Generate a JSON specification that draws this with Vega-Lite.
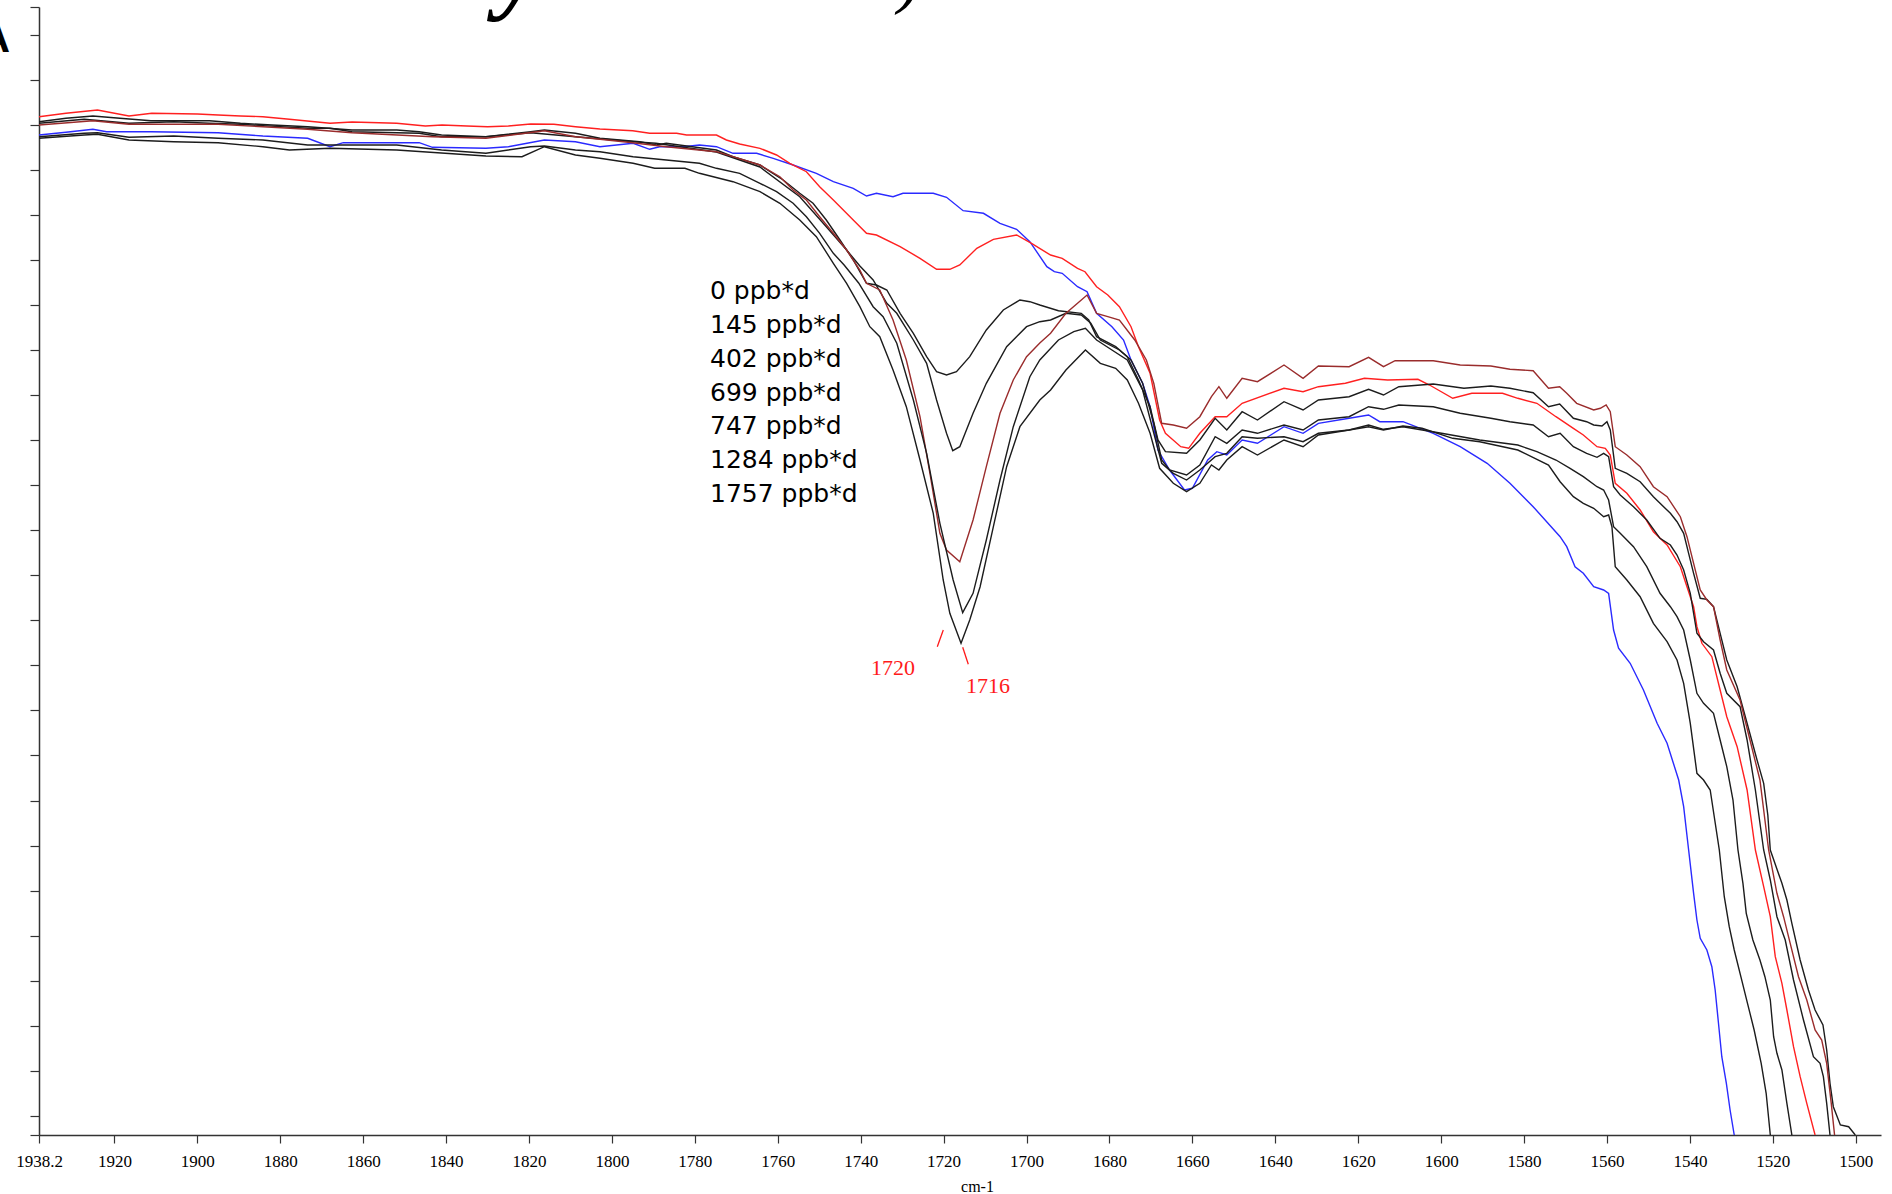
{
  "$schema": "https://vega.github.io/schema/vega-lite/v6.json",
  "width": 1842,
  "height": 1128,
  "autosize": {"type": "none"},
  "padding": {"left": 39, "top": 7, "right": 11, "bottom": 59},
  "background": "white",
  "config": {
    "view": {"stroke": null},
    "axis": {"grid": false, "domainColor": "#333333", "tickColor": "#333333", "domainWidth": 1.5, "tickWidth": 1.2}
  },
  "datasets": {
    "spectra": [
      {"series":"0 ppb*d","wavenumber":1938.2,"absorbance":2.0},{"series":"0 ppb*d","wavenumber":1931.7,"absorbance":2.0054},{"series":"0 ppb*d","wavenumber":1925.2,"absorbance":2.0114},{"series":"0 ppb*d","wavenumber":1921.9,"absorbance":2.0066},{"series":"0 ppb*d","wavenumber":1911.2,"absorbance":2.0066},{"series":"0 ppb*d","wavenumber":1895.0,"absorbance":2.0046},{"series":"0 ppb*d","wavenumber":1884.2,"absorbance":1.998},{"series":"0 ppb*d","wavenumber":1873.4,"absorbance":1.9934},{"series":"0 ppb*d","wavenumber":1868.0,"absorbance":1.9766},{"series":"0 ppb*d","wavenumber":1864.8,"absorbance":1.9846},{"series":"0 ppb*d","wavenumber":1846.5,"absorbance":1.9846},{"series":"0 ppb*d","wavenumber":1843.3,"absorbance":1.9754},{"series":"0 ppb*d","wavenumber":1830.4,"absorbance":1.9734},{"series":"0 ppb*d","wavenumber":1825.0,"absorbance":1.9766},{"series":"0 ppb*d","wavenumber":1816.3,"absorbance":1.99},{"series":"0 ppb*d","wavenumber":1808.8,"absorbance":1.9866},{"series":"0 ppb*d","wavenumber":1802.9,"absorbance":1.9766},{"series":"0 ppb*d","wavenumber":1794.9,"absorbance":1.9834},{"series":"0 ppb*d","wavenumber":1790.9,"absorbance":1.9714},{"series":"0 ppb*d","wavenumber":1788.5,"absorbance":1.9766},{"series":"0 ppb*d","wavenumber":1782.8,"absorbance":1.9766},{"series":"0 ppb*d","wavenumber":1778.9,"absorbance":1.98},{"series":"0 ppb*d","wavenumber":1774.8,"absorbance":1.9766},{"series":"0 ppb*d","wavenumber":1770.8,"absorbance":1.9634},{"series":"0 ppb*d","wavenumber":1765.1,"absorbance":1.9634},{"series":"0 ppb*d","wavenumber":1761.1,"absorbance":1.9534},{"series":"0 ppb*d","wavenumber":1756.3,"absorbance":1.94},{"series":"0 ppb*d","wavenumber":1750.7,"absorbance":1.9234},{"series":"0 ppb*d","wavenumber":1746.6,"absorbance":1.9066},{"series":"0 ppb*d","wavenumber":1741.8,"absorbance":1.8934},{"series":"0 ppb*d","wavenumber":1738.6,"absorbance":1.878},{"series":"0 ppb*d","wavenumber":1736.2,"absorbance":1.8834},{"series":"0 ppb*d","wavenumber":1732.2,"absorbance":1.8766},{"series":"0 ppb*d","wavenumber":1729.8,"absorbance":1.8834},{"series":"0 ppb*d","wavenumber":1722.5,"absorbance":1.8834},{"series":"0 ppb*d","wavenumber":1719.3,"absorbance":1.8754},{"series":"0 ppb*d","wavenumber":1715.3,"absorbance":1.8486},{"series":"0 ppb*d","wavenumber":1710.4,"absorbance":1.8434},{"series":"0 ppb*d","wavenumber":1706.4,"absorbance":1.8234},{"series":"0 ppb*d","wavenumber":1702.4,"absorbance":1.8114},{"series":"0 ppb*d","wavenumber":1699.2,"absorbance":1.7866},{"series":"0 ppb*d","wavenumber":1695.1,"absorbance":1.7366},{"series":"0 ppb*d","wavenumber":1693.3,"absorbance":1.7266},{"series":"0 ppb*d","wavenumber":1691.4,"absorbance":1.7234},{"series":"0 ppb*d","wavenumber":1687.7,"absorbance":1.6966},{"series":"0 ppb*d","wavenumber":1685.4,"absorbance":1.6866},{"series":"0 ppb*d","wavenumber":1683.1,"absorbance":1.6434},{"series":"0 ppb*d","wavenumber":1679.4,"absorbance":1.6166},{"series":"0 ppb*d","wavenumber":1676.6,"absorbance":1.59},{"series":"0 ppb*d","wavenumber":1674.8,"absorbance":1.55},{"series":"0 ppb*d","wavenumber":1672.0,"absorbance":1.5034},{"series":"0 ppb*d","wavenumber":1670.2,"absorbance":1.4566},{"series":"0 ppb*d","wavenumber":1668.3,"absorbance":1.37},{"series":"0 ppb*d","wavenumber":1665.5,"absorbance":1.33},{"series":"0 ppb*d","wavenumber":1661.9,"absorbance":1.29},{"series":"0 ppb*d","wavenumber":1660.0,"absorbance":1.2934},{"series":"0 ppb*d","wavenumber":1656.3,"absorbance":1.35},{"series":"0 ppb*d","wavenumber":1654.1,"absorbance":1.3666},{"series":"0 ppb*d","wavenumber":1651.7,"absorbance":1.36},{"series":"0 ppb*d","wavenumber":1648.0,"absorbance":1.39},{"series":"0 ppb*d","wavenumber":1644.3,"absorbance":1.3834},{"series":"0 ppb*d","wavenumber":1637.9,"absorbance":1.4166},{"series":"0 ppb*d","wavenumber":1633.3,"absorbance":1.4034},{"series":"0 ppb*d","wavenumber":1629.6,"absorbance":1.4234},{"series":"0 ppb*d","wavenumber":1622.2,"absorbance":1.4334},{"series":"0 ppb*d","wavenumber":1617.5,"absorbance":1.44},{"series":"0 ppb*d","wavenumber":1614.8,"absorbance":1.4266},{"series":"0 ppb*d","wavenumber":1609.2,"absorbance":1.4266},{"series":"0 ppb*d","wavenumber":1601.9,"absorbance":1.4034},{"series":"0 ppb*d","wavenumber":1595.4,"absorbance":1.3766},{"series":"0 ppb*d","wavenumber":1588.9,"absorbance":1.3434},{"series":"0 ppb*d","wavenumber":1583.4,"absorbance":1.3034},{"series":"0 ppb*d","wavenumber":1577.8,"absorbance":1.2566},{"series":"0 ppb*d","wavenumber":1571.3,"absorbance":1.1966},{"series":"0 ppb*d","wavenumber":1569.7,"absorbance":1.1766},{"series":"0 ppb*d","wavenumber":1567.7,"absorbance":1.1366},{"series":"0 ppb*d","wavenumber":1565.7,"absorbance":1.1234},{"series":"0 ppb*d","wavenumber":1563.2,"absorbance":1.0966},{"series":"0 ppb*d","wavenumber":1560.8,"absorbance":1.09},{"series":"0 ppb*d","wavenumber":1559.6,"absorbance":1.0834},{"series":"0 ppb*d","wavenumber":1558.4,"absorbance":1.01},{"series":"0 ppb*d","wavenumber":1557.2,"absorbance":0.9734},{"series":"0 ppb*d","wavenumber":1554.4,"absorbance":0.9434},{"series":"0 ppb*d","wavenumber":1551.2,"absorbance":0.89},{"series":"0 ppb*d","wavenumber":1547.9,"absorbance":0.8234},{"series":"0 ppb*d","wavenumber":1545.5,"absorbance":0.7834},{"series":"0 ppb*d","wavenumber":1542.7,"absorbance":0.71},{"series":"0 ppb*d","wavenumber":1541.5,"absorbance":0.6566},{"series":"0 ppb*d","wavenumber":1540.3,"absorbance":0.57},{"series":"0 ppb*d","wavenumber":1539.1,"absorbance":0.4834},{"series":"0 ppb*d","wavenumber":1538.3,"absorbance":0.43},{"series":"0 ppb*d","wavenumber":1537.5,"absorbance":0.3934},{"series":"0 ppb*d","wavenumber":1535.9,"absorbance":0.37},{"series":"0 ppb*d","wavenumber":1534.7,"absorbance":0.3366},{"series":"0 ppb*d","wavenumber":1533.9,"absorbance":0.29},{"series":"0 ppb*d","wavenumber":1533.1,"absorbance":0.2234},{"series":"0 ppb*d","wavenumber":1532.3,"absorbance":0.1566},{"series":"0 ppb*d","wavenumber":1531.2,"absorbance":0.1034},{"series":"0 ppb*d","wavenumber":1530.3,"absorbance":0.05},{"series":"0 ppb*d","wavenumber":1529.3,"absorbance":0.0},

      {"series":"145 ppb*d","wavenumber":1938.2,"absorbance":2.0366},{"series":"145 ppb*d","wavenumber":1931.7,"absorbance":2.0434},{"series":"145 ppb*d","wavenumber":1924.1,"absorbance":2.05},{"series":"145 ppb*d","wavenumber":1916.5,"absorbance":2.038},{"series":"145 ppb*d","wavenumber":1911.0,"absorbance":2.0434},{"series":"145 ppb*d","wavenumber":1900.0,"absorbance":2.042},{"series":"145 ppb*d","wavenumber":1895.0,"absorbance":2.04},{"series":"145 ppb*d","wavenumber":1889.6,"absorbance":2.038},{"series":"145 ppb*d","wavenumber":1884.2,"absorbance":2.0366},{"series":"145 ppb*d","wavenumber":1877.8,"absorbance":2.0314},{"series":"145 ppb*d","wavenumber":1868.0,"absorbance":2.0234},{"series":"145 ppb*d","wavenumber":1862.7,"absorbance":2.026},{"series":"145 ppb*d","wavenumber":1851.9,"absorbance":2.0234},{"series":"145 ppb*d","wavenumber":1845.0,"absorbance":2.018},{"series":"145 ppb*d","wavenumber":1841.0,"absorbance":2.02},{"series":"145 ppb*d","wavenumber":1835.0,"absorbance":2.018},{"series":"145 ppb*d","wavenumber":1830.0,"absorbance":2.0166},{"series":"145 ppb*d","wavenumber":1825.0,"absorbance":2.018},{"series":"145 ppb*d","wavenumber":1819.6,"absorbance":2.022},{"series":"145 ppb*d","wavenumber":1814.0,"absorbance":2.0214},{"series":"145 ppb*d","wavenumber":1808.8,"absorbance":2.0166},{"series":"145 ppb*d","wavenumber":1802.9,"absorbance":2.012},{"series":"145 ppb*d","wavenumber":1795.0,"absorbance":2.0086},{"series":"145 ppb*d","wavenumber":1790.9,"absorbance":2.0034},{"series":"145 ppb*d","wavenumber":1784.4,"absorbance":2.0034},{"series":"145 ppb*d","wavenumber":1782.0,"absorbance":2.0},{"series":"145 ppb*d","wavenumber":1774.8,"absorbance":2.0},{"series":"145 ppb*d","wavenumber":1772.4,"absorbance":1.99},{"series":"145 ppb*d","wavenumber":1769.2,"absorbance":1.982},{"series":"145 ppb*d","wavenumber":1764.3,"absorbance":1.9734},{"series":"145 ppb*d","wavenumber":1760.3,"absorbance":1.96},{"series":"145 ppb*d","wavenumber":1757.1,"absorbance":1.9434},{"series":"145 ppb*d","wavenumber":1753.1,"absorbance":1.9266},{"series":"145 ppb*d","wavenumber":1749.9,"absorbance":1.8966},{"series":"145 ppb*d","wavenumber":1746.6,"absorbance":1.87},{"series":"145 ppb*d","wavenumber":1741.8,"absorbance":1.83},{"series":"145 ppb*d","wavenumber":1738.6,"absorbance":1.8034},{"series":"145 ppb*d","wavenumber":1736.2,"absorbance":1.8},{"series":"145 ppb*d","wavenumber":1730.5,"absorbance":1.7766},{"series":"145 ppb*d","wavenumber":1725.7,"absorbance":1.7534},{"series":"145 ppb*d","wavenumber":1721.7,"absorbance":1.7314},{"series":"145 ppb*d","wavenumber":1718.5,"absorbance":1.7314},{"series":"145 ppb*d","wavenumber":1716.1,"absorbance":1.74},{"series":"145 ppb*d","wavenumber":1712.0,"absorbance":1.7734},{"series":"145 ppb*d","wavenumber":1708.0,"absorbance":1.7914},{"series":"145 ppb*d","wavenumber":1702.4,"absorbance":1.8},{"series":"145 ppb*d","wavenumber":1698.8,"absorbance":1.7834},{"series":"145 ppb*d","wavenumber":1694.2,"absorbance":1.76},{"series":"145 ppb*d","wavenumber":1691.4,"absorbance":1.7534},{"series":"145 ppb*d","wavenumber":1687.7,"absorbance":1.7334},{"series":"145 ppb*d","wavenumber":1685.9,"absorbance":1.7266},{"series":"145 ppb*d","wavenumber":1683.1,"absorbance":1.6966},{"series":"145 ppb*d","wavenumber":1680.4,"absorbance":1.68},{"series":"145 ppb*d","wavenumber":1677.6,"absorbance":1.6566},{"series":"145 ppb*d","wavenumber":1674.8,"absorbance":1.6166},{"series":"145 ppb*d","wavenumber":1673.0,"absorbance":1.5766},{"series":"145 ppb*d","wavenumber":1670.2,"absorbance":1.5234},{"series":"145 ppb*d","wavenumber":1667.9,"absorbance":1.43},{"series":"145 ppb*d","wavenumber":1666.5,"absorbance":1.4034},{"series":"145 ppb*d","wavenumber":1662.8,"absorbance":1.3766},{"series":"145 ppb*d","wavenumber":1660.9,"absorbance":1.3734},{"series":"145 ppb*d","wavenumber":1658.2,"absorbance":1.4034},{"series":"145 ppb*d","wavenumber":1654.5,"absorbance":1.4366},{"series":"145 ppb*d","wavenumber":1651.7,"absorbance":1.4366},{"series":"145 ppb*d","wavenumber":1648.0,"absorbance":1.4634},{"series":"145 ppb*d","wavenumber":1637.9,"absorbance":1.4934},{"series":"145 ppb*d","wavenumber":1633.3,"absorbance":1.4866},{"series":"145 ppb*d","wavenumber":1629.6,"absorbance":1.4966},{"series":"145 ppb*d","wavenumber":1623.1,"absorbance":1.5034},{"series":"145 ppb*d","wavenumber":1618.5,"absorbance":1.5134},{"series":"145 ppb*d","wavenumber":1612.9,"absorbance":1.51},{"series":"145 ppb*d","wavenumber":1605.6,"absorbance":1.5114},{"series":"145 ppb*d","wavenumber":1602.8,"absorbance":1.5},{"series":"145 ppb*d","wavenumber":1597.2,"absorbance":1.4734},{"series":"145 ppb*d","wavenumber":1592.6,"absorbance":1.4834},{"series":"145 ppb*d","wavenumber":1585.2,"absorbance":1.4834},{"series":"145 ppb*d","wavenumber":1581.5,"absorbance":1.4734},{"series":"145 ppb*d","wavenumber":1576.9,"absorbance":1.4634},{"series":"145 ppb*d","wavenumber":1572.3,"absorbance":1.4366},{"series":"145 ppb*d","wavenumber":1568.1,"absorbance":1.4134},{"series":"145 ppb*d","wavenumber":1565.7,"absorbance":1.4},{"series":"145 ppb*d","wavenumber":1562.4,"absorbance":1.3766},{"series":"145 ppb*d","wavenumber":1560.4,"absorbance":1.3734},{"series":"145 ppb*d","wavenumber":1559.2,"absorbance":1.36},{"series":"145 ppb*d","wavenumber":1558.0,"absorbance":1.3034},{"series":"145 ppb*d","wavenumber":1555.2,"absorbance":1.2834},{"series":"145 ppb*d","wavenumber":1552.0,"absorbance":1.25},{"series":"145 ppb*d","wavenumber":1548.8,"absorbance":1.2066},{"series":"145 ppb*d","wavenumber":1545.5,"absorbance":1.18},{"series":"145 ppb*d","wavenumber":1542.3,"absorbance":1.1366},{"series":"145 ppb*d","wavenumber":1540.7,"absorbance":1.0966},{"series":"145 ppb*d","wavenumber":1539.1,"absorbance":1.0566},{"series":"145 ppb*d","wavenumber":1538.3,"absorbance":1.0166},{"series":"145 ppb*d","wavenumber":1537.1,"absorbance":0.9834},{"series":"145 ppb*d","wavenumber":1534.7,"absorbance":0.9566},{"series":"145 ppb*d","wavenumber":1532.7,"absorbance":0.89},{"series":"145 ppb*d","wavenumber":1531.1,"absorbance":0.8366},{"series":"145 ppb*d","wavenumber":1528.6,"absorbance":0.7766},{"series":"145 ppb*d","wavenumber":1526.2,"absorbance":0.69},{"series":"145 ppb*d","wavenumber":1524.2,"absorbance":0.57},{"series":"145 ppb*d","wavenumber":1522.2,"absorbance":0.4966},{"series":"145 ppb*d","wavenumber":1520.6,"absorbance":0.4366},{"series":"145 ppb*d","wavenumber":1519.4,"absorbance":0.3566},{"series":"145 ppb*d","wavenumber":1517.8,"absorbance":0.3034},{"series":"145 ppb*d","wavenumber":1516.6,"absorbance":0.25},{"series":"145 ppb*d","wavenumber":1515.0,"absorbance":0.1766},{"series":"145 ppb*d","wavenumber":1513.4,"absorbance":0.1166},{"series":"145 ppb*d","wavenumber":1511.8,"absorbance":0.0634},{"series":"145 ppb*d","wavenumber":1509.8,"absorbance":0.0},

      {"series":"402 ppb*d","wavenumber":1938.2,"absorbance":2.0266},{"series":"402 ppb*d","wavenumber":1931.7,"absorbance":2.0334},{"series":"402 ppb*d","wavenumber":1925.2,"absorbance":2.038},{"series":"402 ppb*d","wavenumber":1918.7,"absorbance":2.0334},{"series":"402 ppb*d","wavenumber":1911.2,"absorbance":2.0286},{"series":"402 ppb*d","wavenumber":1897.1,"absorbance":2.0286},{"series":"402 ppb*d","wavenumber":1889.6,"absorbance":2.0234},{"series":"402 ppb*d","wavenumber":1882.0,"absorbance":2.02},{"series":"402 ppb*d","wavenumber":1873.4,"absorbance":2.0166},{"series":"402 ppb*d","wavenumber":1862.7,"absorbance":2.01},{"series":"402 ppb*d","wavenumber":1851.9,"absorbance":2.01},{"series":"402 ppb*d","wavenumber":1846.5,"absorbance":2.0066},{"series":"402 ppb*d","wavenumber":1841.1,"absorbance":2.0},{"series":"402 ppb*d","wavenumber":1830.4,"absorbance":1.9966},{"series":"402 ppb*d","wavenumber":1819.6,"absorbance":2.0066},{"series":"402 ppb*d","wavenumber":1816.3,"absorbance":2.01},{"series":"402 ppb*d","wavenumber":1808.8,"absorbance":2.0034},{"series":"402 ppb*d","wavenumber":1802.9,"absorbance":1.9934},{"series":"402 ppb*d","wavenumber":1793.3,"absorbance":1.9866},{"series":"402 ppb*d","wavenumber":1789.3,"absorbance":1.98},{"series":"402 ppb*d","wavenumber":1786.9,"absorbance":1.9834},{"series":"402 ppb*d","wavenumber":1774.8,"absorbance":1.97},{"series":"402 ppb*d","wavenumber":1770.8,"absorbance":1.9566},{"series":"402 ppb*d","wavenumber":1764.3,"absorbance":1.94},{"series":"402 ppb*d","wavenumber":1758.7,"absorbance":1.91},{"series":"402 ppb*d","wavenumber":1754.7,"absorbance":1.8834},{"series":"402 ppb*d","wavenumber":1751.5,"absorbance":1.8634},{"series":"402 ppb*d","wavenumber":1748.3,"absorbance":1.83},{"series":"402 ppb*d","wavenumber":1745.0,"absorbance":1.79},{"series":"402 ppb*d","wavenumber":1741.8,"absorbance":1.75},{"series":"402 ppb*d","wavenumber":1738.6,"absorbance":1.7034},{"series":"402 ppb*d","wavenumber":1736.2,"absorbance":1.70},{"series":"402 ppb*d","wavenumber":1733.7,"absorbance":1.69},{"series":"402 ppb*d","wavenumber":1730.5,"absorbance":1.6434},{"series":"402 ppb*d","wavenumber":1727.3,"absorbance":1.6034},{"series":"402 ppb*d","wavenumber":1724.1,"absorbance":1.5566},{"series":"402 ppb*d","wavenumber":1721.7,"absorbance":1.5266},{"series":"402 ppb*d","wavenumber":1719.3,"absorbance":1.52},{"series":"402 ppb*d","wavenumber":1716.9,"absorbance":1.5266},{"series":"402 ppb*d","wavenumber":1713.7,"absorbance":1.5566},{"series":"402 ppb*d","wavenumber":1709.7,"absorbance":1.61},{"series":"402 ppb*d","wavenumber":1705.6,"absorbance":1.65},{"series":"402 ppb*d","wavenumber":1701.6,"absorbance":1.67},{"series":"402 ppb*d","wavenumber":1699.2,"absorbance":1.6666},{"series":"402 ppb*d","wavenumber":1696.8,"absorbance":1.66},{"series":"402 ppb*d","wavenumber":1692.3,"absorbance":1.6486},{"series":"402 ppb*d","wavenumber":1686.8,"absorbance":1.6434},{"series":"402 ppb*d","wavenumber":1685.0,"absorbance":1.63},{"series":"402 ppb*d","wavenumber":1683.1,"absorbance":1.5966},{"series":"402 ppb*d","wavenumber":1678.5,"absorbance":1.5766},{"series":"402 ppb*d","wavenumber":1675.7,"absorbance":1.5566},{"series":"402 ppb*d","wavenumber":1673.0,"absorbance":1.51},{"series":"402 ppb*d","wavenumber":1670.2,"absorbance":1.4566},{"series":"402 ppb*d","wavenumber":1668.3,"absorbance":1.39},{"series":"402 ppb*d","wavenumber":1666.5,"absorbance":1.3666},{"series":"402 ppb*d","wavenumber":1661.4,"absorbance":1.3634},{"series":"402 ppb*d","wavenumber":1658.2,"absorbance":1.39},{"series":"402 ppb*d","wavenumber":1654.5,"absorbance":1.4334},{"series":"402 ppb*d","wavenumber":1651.7,"absorbance":1.41},{"series":"402 ppb*d","wavenumber":1648.0,"absorbance":1.4466},{"series":"402 ppb*d","wavenumber":1644.3,"absorbance":1.43},{"series":"402 ppb*d","wavenumber":1637.9,"absorbance":1.4666},{"series":"402 ppb*d","wavenumber":1633.3,"absorbance":1.45},{"series":"402 ppb*d","wavenumber":1629.6,"absorbance":1.47},{"series":"402 ppb*d","wavenumber":1622.2,"absorbance":1.4766},{"series":"402 ppb*d","wavenumber":1617.5,"absorbance":1.4914},{"series":"402 ppb*d","wavenumber":1613.9,"absorbance":1.48},{"series":"402 ppb*d","wavenumber":1610.2,"absorbance":1.4966},{"series":"402 ppb*d","wavenumber":1601.9,"absorbance":1.502},{"series":"402 ppb*d","wavenumber":1594.5,"absorbance":1.4934},{"series":"402 ppb*d","wavenumber":1588.0,"absorbance":1.498},{"series":"402 ppb*d","wavenumber":1583.4,"absorbance":1.4934},{"series":"402 ppb*d","wavenumber":1577.8,"absorbance":1.4846},{"series":"402 ppb*d","wavenumber":1574.1,"absorbance":1.4566},{"series":"402 ppb*d","wavenumber":1571.4,"absorbance":1.462},{"series":"402 ppb*d","wavenumber":1568.1,"absorbance":1.4334},{"series":"402 ppb*d","wavenumber":1564.9,"absorbance":1.4266},{"series":"402 ppb*d","wavenumber":1563.2,"absorbance":1.42},{"series":"402 ppb*d","wavenumber":1561.2,"absorbance":1.418},{"series":"402 ppb*d","wavenumber":1560.0,"absorbance":1.4266},{"series":"402 ppb*d","wavenumber":1559.2,"absorbance":1.41},{"series":"402 ppb*d","wavenumber":1558.0,"absorbance":1.3334},{"series":"402 ppb*d","wavenumber":1555.2,"absorbance":1.3234},{"series":"402 ppb*d","wavenumber":1552.0,"absorbance":1.3066},{"series":"402 ppb*d","wavenumber":1548.8,"absorbance":1.2766},{"series":"402 ppb*d","wavenumber":1547.2,"absorbance":1.2634},{"series":"402 ppb*d","wavenumber":1544.7,"absorbance":1.2434},{"series":"402 ppb*d","wavenumber":1543.1,"absorbance":1.2266},{"series":"402 ppb*d","wavenumber":1541.5,"absorbance":1.2034},{"series":"402 ppb*d","wavenumber":1540.3,"absorbance":1.1634},{"series":"402 ppb*d","wavenumber":1539.1,"absorbance":1.1234},{"series":"402 ppb*d","wavenumber":1537.5,"absorbance":1.0734},{"series":"402 ppb*d","wavenumber":1535.9,"absorbance":1.0714},{"series":"402 ppb*d","wavenumber":1534.3,"absorbance":1.0566},{"series":"402 ppb*d","wavenumber":1532.7,"absorbance":1.0034},{"series":"402 ppb*d","wavenumber":1531.1,"absorbance":0.95},{"series":"402 ppb*d","wavenumber":1528.6,"absorbance":0.8966},{"series":"402 ppb*d","wavenumber":1526.2,"absorbance":0.8234},{"series":"402 ppb*d","wavenumber":1523.8,"absorbance":0.75},{"series":"402 ppb*d","wavenumber":1522.2,"absorbance":0.7034},{"series":"402 ppb*d","wavenumber":1521.2,"absorbance":0.64},{"series":"402 ppb*d","wavenumber":1520.6,"absorbance":0.57},{"series":"402 ppb*d","wavenumber":1517.8,"absorbance":0.5034},{"series":"402 ppb*d","wavenumber":1516.6,"absorbance":0.47},{"series":"402 ppb*d","wavenumber":1515.4,"absorbance":0.4234},{"series":"402 ppb*d","wavenumber":1513.4,"absorbance":0.35},{"series":"402 ppb*d","wavenumber":1511.4,"absorbance":0.29},{"series":"402 ppb*d","wavenumber":1509.8,"absorbance":0.25},{"series":"402 ppb*d","wavenumber":1507.9,"absorbance":0.22},{"series":"402 ppb*d","wavenumber":1507.0,"absorbance":0.17},{"series":"402 ppb*d","wavenumber":1506.2,"absorbance":0.1034},{"series":"402 ppb*d","wavenumber":1505.4,"absorbance":0.0566},{"series":"402 ppb*d","wavenumber":1503.7,"absorbance":0.02},{"series":"402 ppb*d","wavenumber":1501.7,"absorbance":0.0166},{"series":"402 ppb*d","wavenumber":1500.1,"absorbance":0.0},

      {"series":"699 ppb*d","wavenumber":1938.2,"absorbance":2.0234},{"series":"699 ppb*d","wavenumber":1927.3,"absorbance":2.0314},{"series":"699 ppb*d","wavenumber":1916.5,"absorbance":2.0234},{"series":"699 ppb*d","wavenumber":1905.7,"absorbance":2.0266},{"series":"699 ppb*d","wavenumber":1897.1,"absorbance":2.0234},{"series":"699 ppb*d","wavenumber":1889.6,"absorbance":2.0214},{"series":"699 ppb*d","wavenumber":1873.4,"absorbance":2.0134},{"series":"699 ppb*d","wavenumber":1868.0,"absorbance":2.0134},{"series":"699 ppb*d","wavenumber":1862.7,"absorbance":2.0066},{"series":"699 ppb*d","wavenumber":1846.5,"absorbance":2.0034},{"series":"699 ppb*d","wavenumber":1841.1,"absorbance":1.9966},{"series":"699 ppb*d","wavenumber":1830.4,"absorbance":1.9966},{"series":"699 ppb*d","wavenumber":1819.6,"absorbance":2.0046},{"series":"699 ppb*d","wavenumber":1808.8,"absorbance":1.9966},{"series":"699 ppb*d","wavenumber":1794.8,"absorbance":1.9866},{"series":"699 ppb*d","wavenumber":1789.4,"absorbance":1.9834},{"series":"699 ppb*d","wavenumber":1774.8,"absorbance":1.966},{"series":"699 ppb*d","wavenumber":1764.3,"absorbance":1.936},{"series":"699 ppb*d","wavenumber":1754.7,"absorbance":1.8766},{"series":"699 ppb*d","wavenumber":1748.3,"absorbance":1.8166},{"series":"699 ppb*d","wavenumber":1743.4,"absorbance":1.77},{"series":"699 ppb*d","wavenumber":1740.2,"absorbance":1.738},{"series":"699 ppb*d","wavenumber":1737.0,"absorbance":1.71},{"series":"699 ppb*d","wavenumber":1733.7,"absorbance":1.6634},{"series":"699 ppb*d","wavenumber":1731.3,"absorbance":1.6434},{"series":"699 ppb*d","wavenumber":1727.3,"absorbance":1.59},{"series":"699 ppb*d","wavenumber":1724.1,"absorbance":1.5434},{"series":"699 ppb*d","wavenumber":1721.7,"absorbance":1.47},{"series":"699 ppb*d","wavenumber":1719.3,"absorbance":1.4034},{"series":"699 ppb*d","wavenumber":1717.8,"absorbance":1.3686},{"series":"699 ppb*d","wavenumber":1716.1,"absorbance":1.3766},{"series":"699 ppb*d","wavenumber":1712.9,"absorbance":1.4434},{"series":"699 ppb*d","wavenumber":1709.7,"absorbance":1.5034},{"series":"699 ppb*d","wavenumber":1704.8,"absorbance":1.5766},{"series":"699 ppb*d","wavenumber":1700.0,"absorbance":1.6166},{"series":"699 ppb*d","wavenumber":1696.8,"absorbance":1.6266},{"series":"699 ppb*d","wavenumber":1694.2,"absorbance":1.63},{"series":"699 ppb*d","wavenumber":1690.5,"absorbance":1.6434},{"series":"699 ppb*d","wavenumber":1686.8,"absorbance":1.64},{"series":"699 ppb*d","wavenumber":1684.5,"absorbance":1.6234},{"series":"699 ppb*d","wavenumber":1682.2,"absorbance":1.59},{"series":"699 ppb*d","wavenumber":1677.6,"absorbance":1.57},{"series":"699 ppb*d","wavenumber":1674.8,"absorbance":1.55},{"series":"699 ppb*d","wavenumber":1672.0,"absorbance":1.5034},{"series":"699 ppb*d","wavenumber":1669.3,"absorbance":1.4234},{"series":"699 ppb*d","wavenumber":1667.4,"absorbance":1.35},{"series":"699 ppb*d","wavenumber":1665.5,"absorbance":1.33},{"series":"699 ppb*d","wavenumber":1661.4,"absorbance":1.32},{"series":"699 ppb*d","wavenumber":1658.2,"absorbance":1.34},{"series":"699 ppb*d","wavenumber":1654.5,"absorbance":1.3966},{"series":"699 ppb*d","wavenumber":1651.7,"absorbance":1.3834},{"series":"699 ppb*d","wavenumber":1648.0,"absorbance":1.41},{"series":"699 ppb*d","wavenumber":1644.3,"absorbance":1.4034},{"series":"699 ppb*d","wavenumber":1637.9,"absorbance":1.42},{"series":"699 ppb*d","wavenumber":1633.3,"absorbance":1.41},{"series":"699 ppb*d","wavenumber":1629.6,"absorbance":1.43},{"series":"699 ppb*d","wavenumber":1622.2,"absorbance":1.4366},{"series":"699 ppb*d","wavenumber":1617.5,"absorbance":1.4566},{"series":"699 ppb*d","wavenumber":1613.9,"absorbance":1.4514},{"series":"699 ppb*d","wavenumber":1610.2,"absorbance":1.46},{"series":"699 ppb*d","wavenumber":1601.9,"absorbance":1.4566},{"series":"699 ppb*d","wavenumber":1595.4,"absorbance":1.4434},{"series":"699 ppb*d","wavenumber":1588.0,"absorbance":1.4334},{"series":"699 ppb*d","wavenumber":1583.4,"absorbance":1.4266},{"series":"699 ppb*d","wavenumber":1577.8,"absorbance":1.42},{"series":"699 ppb*d","wavenumber":1574.1,"absorbance":1.3966},{"series":"699 ppb*d","wavenumber":1571.3,"absorbance":1.4034},{"series":"699 ppb*d","wavenumber":1568.1,"absorbance":1.3766},{"series":"699 ppb*d","wavenumber":1564.9,"absorbance":1.3634},{"series":"699 ppb*d","wavenumber":1562.4,"absorbance":1.3554},{"series":"699 ppb*d","wavenumber":1560.8,"absorbance":1.3634},{"series":"699 ppb*d","wavenumber":1559.6,"absorbance":1.3566},{"series":"699 ppb*d","wavenumber":1558.4,"absorbance":1.2966},{"series":"699 ppb*d","wavenumber":1556.8,"absorbance":1.28},{"series":"699 ppb*d","wavenumber":1553.6,"absorbance":1.2566},{"series":"699 ppb*d","wavenumber":1550.4,"absorbance":1.23},{"series":"699 ppb*d","wavenumber":1547.2,"absorbance":1.1934},{"series":"699 ppb*d","wavenumber":1544.7,"absorbance":1.18},{"series":"699 ppb*d","wavenumber":1543.1,"absorbance":1.16},{"series":"699 ppb*d","wavenumber":1541.5,"absorbance":1.13},{"series":"699 ppb*d","wavenumber":1539.9,"absorbance":1.0834},{"series":"699 ppb*d","wavenumber":1538.3,"absorbance":1.0034},{"series":"699 ppb*d","wavenumber":1536.7,"absorbance":0.9866},{"series":"699 ppb*d","wavenumber":1534.3,"absorbance":0.97},{"series":"699 ppb*d","wavenumber":1532.7,"absorbance":0.9234},{"series":"699 ppb*d","wavenumber":1531.1,"absorbance":0.8834},{"series":"699 ppb*d","wavenumber":1527.9,"absorbance":0.8566},{"series":"699 ppb*d","wavenumber":1526.2,"absorbance":0.79},{"series":"699 ppb*d","wavenumber":1524.2,"absorbance":0.69},{"series":"699 ppb*d","wavenumber":1522.2,"absorbance":0.57},{"series":"699 ppb*d","wavenumber":1520.6,"absorbance":0.51},{"series":"699 ppb*d","wavenumber":1519.0,"absorbance":0.4366},{"series":"699 ppb*d","wavenumber":1517.0,"absorbance":0.39},{"series":"699 ppb*d","wavenumber":1515.0,"absorbance":0.31},{"series":"699 ppb*d","wavenumber":1512.6,"absorbance":0.23},{"series":"699 ppb*d","wavenumber":1510.2,"absorbance":0.1566},{"series":"699 ppb*d","wavenumber":1508.6,"absorbance":0.1434},{"series":"699 ppb*d","wavenumber":1507.8,"absorbance":0.1166},{"series":"699 ppb*d","wavenumber":1507.0,"absorbance":0.0634},{"series":"699 ppb*d","wavenumber":1506.2,"absorbance":0.0},

      {"series":"747 ppb*d","wavenumber":1938.2,"absorbance":2.02},{"series":"747 ppb*d","wavenumber":1925.2,"absorbance":2.0286},{"series":"747 ppb*d","wavenumber":1916.5,"absorbance":2.0214},{"series":"747 ppb*d","wavenumber":1895.0,"absorbance":2.0214},{"series":"747 ppb*d","wavenumber":1873.4,"absorbance":2.0114},{"series":"747 ppb*d","wavenumber":1862.7,"absorbance":2.0046},{"series":"747 ppb*d","wavenumber":1843.3,"absorbance":1.9966},{"series":"747 ppb*d","wavenumber":1830.4,"absorbance":1.9934},{"series":"747 ppb*d","wavenumber":1816.3,"absorbance":2.0086},{"series":"747 ppb*d","wavenumber":1808.8,"absorbance":1.9966},{"series":"747 ppb*d","wavenumber":1802.9,"absorbance":1.9914},{"series":"747 ppb*d","wavenumber":1795.0,"absorbance":1.9846},{"series":"747 ppb*d","wavenumber":1786.9,"absorbance":1.9766},{"series":"747 ppb*d","wavenumber":1774.8,"absorbance":1.9666},{"series":"747 ppb*d","wavenumber":1770.8,"absorbance":1.9566},{"series":"747 ppb*d","wavenumber":1764.3,"absorbance":1.94},{"series":"747 ppb*d","wavenumber":1759.5,"absorbance":1.9166},{"series":"747 ppb*d","wavenumber":1756.3,"absorbance":1.89},{"series":"747 ppb*d","wavenumber":1753.1,"absorbance":1.87},{"series":"747 ppb*d","wavenumber":1749.9,"absorbance":1.8366},{"series":"747 ppb*d","wavenumber":1746.6,"absorbance":1.8034},{"series":"747 ppb*d","wavenumber":1743.4,"absorbance":1.77},{"series":"747 ppb*d","wavenumber":1740.2,"absorbance":1.73},{"series":"747 ppb*d","wavenumber":1738.6,"absorbance":1.7034},{"series":"747 ppb*d","wavenumber":1735.4,"absorbance":1.69},{"series":"747 ppb*d","wavenumber":1732.2,"absorbance":1.63},{"series":"747 ppb*d","wavenumber":1729.0,"absorbance":1.55},{"series":"747 ppb*d","wavenumber":1725.7,"absorbance":1.4366},{"series":"747 ppb*d","wavenumber":1723.3,"absorbance":1.3234},{"series":"747 ppb*d","wavenumber":1720.9,"absorbance":1.2034},{"series":"747 ppb*d","wavenumber":1719.3,"absorbance":1.17},{"series":"747 ppb*d","wavenumber":1716.1,"absorbance":1.1466},{"series":"747 ppb*d","wavenumber":1712.9,"absorbance":1.23},{"series":"747 ppb*d","wavenumber":1709.7,"absorbance":1.3366},{"series":"747 ppb*d","wavenumber":1706.4,"absorbance":1.4434},{"series":"747 ppb*d","wavenumber":1703.2,"absorbance":1.51},{"series":"747 ppb*d","wavenumber":1700.0,"absorbance":1.5566},{"series":"747 ppb*d","wavenumber":1696.8,"absorbance":1.584},{"series":"747 ppb*d","wavenumber":1694.2,"absorbance":1.6034},{"series":"747 ppb*d","wavenumber":1690.5,"absorbance":1.6434},{"series":"747 ppb*d","wavenumber":1687.7,"absorbance":1.6634},{"series":"747 ppb*d","wavenumber":1685.4,"absorbance":1.68},{"series":"747 ppb*d","wavenumber":1683.1,"absorbance":1.6434},{"series":"747 ppb*d","wavenumber":1680.4,"absorbance":1.6366},{"series":"747 ppb*d","wavenumber":1677.6,"absorbance":1.63},{"series":"747 ppb*d","wavenumber":1673.9,"absorbance":1.59},{"series":"747 ppb*d","wavenumber":1671.1,"absorbance":1.55},{"series":"747 ppb*d","wavenumber":1669.3,"absorbance":1.5034},{"series":"747 ppb*d","wavenumber":1667.4,"absorbance":1.4234},{"series":"747 ppb*d","wavenumber":1664.6,"absorbance":1.42},{"series":"747 ppb*d","wavenumber":1661.4,"absorbance":1.4134},{"series":"747 ppb*d","wavenumber":1658.2,"absorbance":1.4366},{"series":"747 ppb*d","wavenumber":1655.4,"absorbance":1.4766},{"series":"747 ppb*d","wavenumber":1653.6,"absorbance":1.4966},{"series":"747 ppb*d","wavenumber":1651.7,"absorbance":1.4734},{"series":"747 ppb*d","wavenumber":1648.0,"absorbance":1.5134},{"series":"747 ppb*d","wavenumber":1644.3,"absorbance":1.5066},{"series":"747 ppb*d","wavenumber":1637.9,"absorbance":1.54},{"series":"747 ppb*d","wavenumber":1633.3,"absorbance":1.5134},{"series":"747 ppb*d","wavenumber":1629.6,"absorbance":1.538},{"series":"747 ppb*d","wavenumber":1622.2,"absorbance":1.5366},{"series":"747 ppb*d","wavenumber":1617.5,"absorbance":1.5554},{"series":"747 ppb*d","wavenumber":1613.9,"absorbance":1.5366},{"series":"747 ppb*d","wavenumber":1611.1,"absorbance":1.5486},{"series":"747 ppb*d","wavenumber":1601.9,"absorbance":1.5486},{"series":"747 ppb*d","wavenumber":1595.4,"absorbance":1.54},{"series":"747 ppb*d","wavenumber":1588.0,"absorbance":1.538},{"series":"747 ppb*d","wavenumber":1583.4,"absorbance":1.5314},{"series":"747 ppb*d","wavenumber":1577.8,"absorbance":1.5286},{"series":"747 ppb*d","wavenumber":1574.1,"absorbance":1.4934},{"series":"747 ppb*d","wavenumber":1571.4,"absorbance":1.4966},{"series":"747 ppb*d","wavenumber":1569.7,"absorbance":1.4834},{"series":"747 ppb*d","wavenumber":1567.3,"absorbance":1.4634},{"series":"747 ppb*d","wavenumber":1563.2,"absorbance":1.45},{"series":"747 ppb*d","wavenumber":1561.6,"absorbance":1.4534},{"series":"747 ppb*d","wavenumber":1560.2,"absorbance":1.46},{"series":"747 ppb*d","wavenumber":1559.2,"absorbance":1.4466},{"series":"747 ppb*d","wavenumber":1558.0,"absorbance":1.3766},{"series":"747 ppb*d","wavenumber":1555.2,"absorbance":1.36},{"series":"747 ppb*d","wavenumber":1552.0,"absorbance":1.3366},{"series":"747 ppb*d","wavenumber":1548.8,"absorbance":1.2966},{"series":"747 ppb*d","wavenumber":1545.5,"absorbance":1.2766},{"series":"747 ppb*d","wavenumber":1542.3,"absorbance":1.2366},{"series":"747 ppb*d","wavenumber":1540.7,"absorbance":1.1966},{"series":"747 ppb*d","wavenumber":1539.1,"absorbance":1.1434},{"series":"747 ppb*d","wavenumber":1537.5,"absorbance":1.09},{"series":"747 ppb*d","wavenumber":1535.9,"absorbance":1.07},{"series":"747 ppb*d","wavenumber":1534.3,"absorbance":1.0566},{"series":"747 ppb*d","wavenumber":1532.7,"absorbance":0.99},{"series":"747 ppb*d","wavenumber":1531.1,"absorbance":0.93},{"series":"747 ppb*d","wavenumber":1527.9,"absorbance":0.87},{"series":"747 ppb*d","wavenumber":1525.5,"absorbance":0.79},{"series":"747 ppb*d","wavenumber":1523.1,"absorbance":0.71},{"series":"747 ppb*d","wavenumber":1521.0,"absorbance":0.57},{"series":"747 ppb*d","wavenumber":1519.0,"absorbance":0.4834},{"series":"747 ppb*d","wavenumber":1517.4,"absorbance":0.4366},{"series":"747 ppb*d","wavenumber":1515.8,"absorbance":0.3834},{"series":"747 ppb*d","wavenumber":1513.8,"absorbance":0.3166},{"series":"747 ppb*d","wavenumber":1511.8,"absorbance":0.27},{"series":"747 ppb*d","wavenumber":1509.8,"absorbance":0.21},{"series":"747 ppb*d","wavenumber":1508.2,"absorbance":0.19},{"series":"747 ppb*d","wavenumber":1507.0,"absorbance":0.1434},{"series":"747 ppb*d","wavenumber":1505.9,"absorbance":0.0634},{"series":"747 ppb*d","wavenumber":1505.1,"absorbance":0.0},

      {"series":"1284 ppb*d","wavenumber":1938.2,"absorbance":1.9966},{"series":"1284 ppb*d","wavenumber":1927.3,"absorbance":2.0034},{"series":"1284 ppb*d","wavenumber":1924.1,"absorbance":2.0046},{"series":"1284 ppb*d","wavenumber":1916.5,"absorbance":1.9954},{"series":"1284 ppb*d","wavenumber":1905.7,"absorbance":1.998},{"series":"1284 ppb*d","wavenumber":1895.0,"absorbance":1.9934},{"series":"1284 ppb*d","wavenumber":1884.2,"absorbance":1.99},{"series":"1284 ppb*d","wavenumber":1873.4,"absorbance":1.98},{"series":"1284 ppb*d","wavenumber":1851.9,"absorbance":1.98},{"series":"1284 ppb*d","wavenumber":1841.1,"absorbance":1.97},{"series":"1284 ppb*d","wavenumber":1830.4,"absorbance":1.9634},{"series":"1284 ppb*d","wavenumber":1819.6,"absorbance":1.9766},{"series":"1284 ppb*d","wavenumber":1816.3,"absorbance":1.978},{"series":"1284 ppb*d","wavenumber":1808.8,"absorbance":1.97},{"series":"1284 ppb*d","wavenumber":1802.9,"absorbance":1.9666},{"series":"1284 ppb*d","wavenumber":1794.9,"absorbance":1.9566},{"series":"1284 ppb*d","wavenumber":1786.9,"absorbance":1.95},{"series":"1284 ppb*d","wavenumber":1778.9,"absorbance":1.9434},{"series":"1284 ppb*d","wavenumber":1774.8,"absorbance":1.9334},{"series":"1284 ppb*d","wavenumber":1769.2,"absorbance":1.9234},{"series":"1284 ppb*d","wavenumber":1764.3,"absorbance":1.9034},{"series":"1284 ppb*d","wavenumber":1760.3,"absorbance":1.8866},{"series":"1284 ppb*d","wavenumber":1756.3,"absorbance":1.8634},{"series":"1284 ppb*d","wavenumber":1753.1,"absorbance":1.8366},{"series":"1284 ppb*d","wavenumber":1749.9,"absorbance":1.8034},{"series":"1284 ppb*d","wavenumber":1746.6,"absorbance":1.7634},{"series":"1284 ppb*d","wavenumber":1744.0,"absorbance":1.74},{"series":"1284 ppb*d","wavenumber":1740.5,"absorbance":1.704},{"series":"1284 ppb*d","wavenumber":1737.0,"absorbance":1.6566},{"series":"1284 ppb*d","wavenumber":1734.6,"absorbance":1.6366},{"series":"1284 ppb*d","wavenumber":1731.3,"absorbance":1.5834},{"series":"1284 ppb*d","wavenumber":1727.3,"absorbance":1.47},{"series":"1284 ppb*d","wavenumber":1724.1,"absorbance":1.3634},{"series":"1284 ppb*d","wavenumber":1720.9,"absorbance":1.2234},{"series":"1284 ppb*d","wavenumber":1717.7,"absorbance":1.11},{"series":"1284 ppb*d","wavenumber":1715.4,"absorbance":1.0446},{"series":"1284 ppb*d","wavenumber":1712.9,"absorbance":1.0834},{"series":"1284 ppb*d","wavenumber":1709.7,"absorbance":1.19},{"series":"1284 ppb*d","wavenumber":1706.4,"absorbance":1.31},{"series":"1284 ppb*d","wavenumber":1703.2,"absorbance":1.4166},{"series":"1284 ppb*d","wavenumber":1699.2,"absorbance":1.5166},{"series":"1284 ppb*d","wavenumber":1696.8,"absorbance":1.55},{"series":"1284 ppb*d","wavenumber":1692.3,"absorbance":1.59},{"series":"1284 ppb*d","wavenumber":1688.6,"absorbance":1.6066},{"series":"1284 ppb*d","wavenumber":1685.8,"absorbance":1.6134},{"series":"1284 ppb*d","wavenumber":1683.1,"absorbance":1.59},{"series":"1284 ppb*d","wavenumber":1679.4,"absorbance":1.57},{"series":"1284 ppb*d","wavenumber":1675.7,"absorbance":1.55},{"series":"1284 ppb*d","wavenumber":1672.0,"absorbance":1.49},{"series":"1284 ppb*d","wavenumber":1669.3,"absorbance":1.4034},{"series":"1284 ppb*d","wavenumber":1667.4,"absorbance":1.3434},{"series":"1284 ppb*d","wavenumber":1664.6,"absorbance":1.3234},{"series":"1284 ppb*d","wavenumber":1661.4,"absorbance":1.31},{"series":"1284 ppb*d","wavenumber":1658.2,"absorbance":1.33},{"series":"1284 ppb*d","wavenumber":1654.5,"absorbance":1.3566},{"series":"1284 ppb*d","wavenumber":1651.7,"absorbance":1.3634},{"series":"1284 ppb*d","wavenumber":1648.0,"absorbance":1.3966},{"series":"1284 ppb*d","wavenumber":1644.3,"absorbance":1.3934},{"series":"1284 ppb*d","wavenumber":1637.9,"absorbance":1.3966},{"series":"1284 ppb*d","wavenumber":1633.3,"absorbance":1.3866},{"series":"1284 ppb*d","wavenumber":1629.6,"absorbance":1.4034},{"series":"1284 ppb*d","wavenumber":1622.2,"absorbance":1.41},{"series":"1284 ppb*d","wavenumber":1617.5,"absorbance":1.42},{"series":"1284 ppb*d","wavenumber":1613.9,"absorbance":1.4114},{"series":"1284 ppb*d","wavenumber":1609.2,"absorbance":1.4166},{"series":"1284 ppb*d","wavenumber":1599.9,"absorbance":1.4034},{"series":"1284 ppb*d","wavenumber":1590.7,"absorbance":1.39},{"series":"1284 ppb*d","wavenumber":1581.5,"absorbance":1.38},{"series":"1284 ppb*d","wavenumber":1576.9,"absorbance":1.3666},{"series":"1284 ppb*d","wavenumber":1572.3,"absorbance":1.35},{"series":"1284 ppb*d","wavenumber":1568.9,"absorbance":1.3334},{"series":"1284 ppb*d","wavenumber":1565.7,"absorbance":1.3166},{"series":"1284 ppb*d","wavenumber":1562.4,"absorbance":1.2966},{"series":"1284 ppb*d","wavenumber":1560.8,"absorbance":1.29},{"series":"1284 ppb*d","wavenumber":1559.6,"absorbance":1.27},{"series":"1284 ppb*d","wavenumber":1558.4,"absorbance":1.2166},{"series":"1284 ppb*d","wavenumber":1556.8,"absorbance":1.2034},{"series":"1284 ppb*d","wavenumber":1553.6,"absorbance":1.1766},{"series":"1284 ppb*d","wavenumber":1550.4,"absorbance":1.1366},{"series":"1284 ppb*d","wavenumber":1547.2,"absorbance":1.0834},{"series":"1284 ppb*d","wavenumber":1544.7,"absorbance":1.0566},{"series":"1284 ppb*d","wavenumber":1543.1,"absorbance":1.0366},{"series":"1284 ppb*d","wavenumber":1541.5,"absorbance":1.01},{"series":"1284 ppb*d","wavenumber":1539.9,"absorbance":0.95},{"series":"1284 ppb*d","wavenumber":1538.3,"absorbance":0.8834},{"series":"1284 ppb*d","wavenumber":1536.7,"absorbance":0.8634},{"series":"1284 ppb*d","wavenumber":1534.3,"absorbance":0.8434},{"series":"1284 ppb*d","wavenumber":1532.7,"absorbance":0.79},{"series":"1284 ppb*d","wavenumber":1531.1,"absorbance":0.7366},{"series":"1284 ppb*d","wavenumber":1529.6,"absorbance":0.67},{"series":"1284 ppb*d","wavenumber":1528.4,"absorbance":0.57},{"series":"1284 ppb*d","wavenumber":1527.2,"absorbance":0.5034},{"series":"1284 ppb*d","wavenumber":1526.4,"absorbance":0.4434},{"series":"1284 ppb*d","wavenumber":1524.8,"absorbance":0.39},{"series":"1284 ppb*d","wavenumber":1523.1,"absorbance":0.35},{"series":"1284 ppb*d","wavenumber":1521.9,"absorbance":0.3166},{"series":"1284 ppb*d","wavenumber":1520.6,"absorbance":0.27},{"series":"1284 ppb*d","wavenumber":1519.8,"absorbance":0.1966},{"series":"1284 ppb*d","wavenumber":1519.0,"absorbance":0.1634},{"series":"1284 ppb*d","wavenumber":1517.8,"absorbance":0.13},{"series":"1284 ppb*d","wavenumber":1516.6,"absorbance":0.0634},{"series":"1284 ppb*d","wavenumber":1515.4,"absorbance":0.0},

      {"series":"1757 ppb*d","wavenumber":1938.2,"absorbance":1.9934},{"series":"1757 ppb*d","wavenumber":1927.3,"absorbance":2.0},{"series":"1757 ppb*d","wavenumber":1924.1,"absorbance":2.0014},{"series":"1757 ppb*d","wavenumber":1916.5,"absorbance":1.99},{"series":"1757 ppb*d","wavenumber":1905.7,"absorbance":1.9866},{"series":"1757 ppb*d","wavenumber":1895.0,"absorbance":1.9846},{"series":"1757 ppb*d","wavenumber":1884.2,"absorbance":1.9766},{"series":"1757 ppb*d","wavenumber":1877.8,"absorbance":1.97},{"series":"1757 ppb*d","wavenumber":1868.0,"absorbance":1.9734},{"series":"1757 ppb*d","wavenumber":1851.9,"absorbance":1.97},{"series":"1757 ppb*d","wavenumber":1830.4,"absorbance":1.958},{"series":"1757 ppb*d","wavenumber":1821.7,"absorbance":1.9566},{"series":"1757 ppb*d","wavenumber":1816.3,"absorbance":1.9766},{"series":"1757 ppb*d","wavenumber":1808.8,"absorbance":1.96},{"series":"1757 ppb*d","wavenumber":1802.9,"absorbance":1.9534},{"series":"1757 ppb*d","wavenumber":1794.9,"absorbance":1.9434},{"series":"1757 ppb*d","wavenumber":1789.7,"absorbance":1.9334},{"series":"1757 ppb*d","wavenumber":1782.4,"absorbance":1.9334},{"series":"1757 ppb*d","wavenumber":1778.9,"absorbance":1.9234},{"series":"1757 ppb*d","wavenumber":1770.8,"absorbance":1.9066},{"series":"1757 ppb*d","wavenumber":1764.3,"absorbance":1.8866},{"series":"1757 ppb*d","wavenumber":1759.5,"absorbance":1.8634},{"series":"1757 ppb*d","wavenumber":1754.7,"absorbance":1.83},{"series":"1757 ppb*d","wavenumber":1750.7,"absorbance":1.7966},{"series":"1757 ppb*d","wavenumber":1746.6,"absorbance":1.7434},{"series":"1757 ppb*d","wavenumber":1743.4,"absorbance":1.7034},{"series":"1757 ppb*d","wavenumber":1740.2,"absorbance":1.6566},{"series":"1757 ppb*d","wavenumber":1737.8,"absorbance":1.6166},{"series":"1757 ppb*d","wavenumber":1735.4,"absorbance":1.5966},{"series":"1757 ppb*d","wavenumber":1732.2,"absorbance":1.53},{"series":"1757 ppb*d","wavenumber":1729.0,"absorbance":1.4566},{"series":"1757 ppb*d","wavenumber":1725.7,"absorbance":1.35},{"series":"1757 ppb*d","wavenumber":1722.5,"absorbance":1.2434},{"series":"1757 ppb*d","wavenumber":1720.1,"absorbance":1.11},{"series":"1757 ppb*d","wavenumber":1718.5,"absorbance":1.0434},{"series":"1757 ppb*d","wavenumber":1715.8,"absorbance":0.9834},{"series":"1757 ppb*d","wavenumber":1713.7,"absorbance":1.03},{"series":"1757 ppb*d","wavenumber":1711.2,"absorbance":1.0966},{"series":"1757 ppb*d","wavenumber":1708.0,"absorbance":1.2166},{"series":"1757 ppb*d","wavenumber":1704.8,"absorbance":1.3366},{"series":"1757 ppb*d","wavenumber":1701.6,"absorbance":1.4166},{"series":"1757 ppb*d","wavenumber":1696.8,"absorbance":1.47},{"series":"1757 ppb*d","wavenumber":1694.2,"absorbance":1.49},{"series":"1757 ppb*d","wavenumber":1690.5,"absorbance":1.53},{"series":"1757 ppb*d","wavenumber":1685.8,"absorbance":1.57},{"series":"1757 ppb*d","wavenumber":1682.2,"absorbance":1.5434},{"series":"1757 ppb*d","wavenumber":1678.5,"absorbance":1.5334},{"series":"1757 ppb*d","wavenumber":1675.7,"absorbance":1.51},{"series":"1757 ppb*d","wavenumber":1673.0,"absorbance":1.4634},{"series":"1757 ppb*d","wavenumber":1670.2,"absorbance":1.4034},{"series":"1757 ppb*d","wavenumber":1667.9,"absorbance":1.3334},{"series":"1757 ppb*d","wavenumber":1664.6,"absorbance":1.3034},{"series":"1757 ppb*d","wavenumber":1661.4,"absorbance":1.2866},{"series":"1757 ppb*d","wavenumber":1658.2,"absorbance":1.3034},{"series":"1757 ppb*d","wavenumber":1655.4,"absorbance":1.34},{"series":"1757 ppb*d","wavenumber":1653.6,"absorbance":1.33},{"series":"1757 ppb*d","wavenumber":1651.7,"absorbance":1.35},{"series":"1757 ppb*d","wavenumber":1648.0,"absorbance":1.3766},{"series":"1757 ppb*d","wavenumber":1644.3,"absorbance":1.36},{"series":"1757 ppb*d","wavenumber":1637.9,"absorbance":1.39},{"series":"1757 ppb*d","wavenumber":1633.3,"absorbance":1.3766},{"series":"1757 ppb*d","wavenumber":1629.6,"absorbance":1.40},{"series":"1757 ppb*d","wavenumber":1622.2,"absorbance":1.41},{"series":"1757 ppb*d","wavenumber":1617.5,"absorbance":1.4166},{"series":"1757 ppb*d","wavenumber":1613.9,"absorbance":1.41},{"series":"1757 ppb*d","wavenumber":1609.2,"absorbance":1.418},{"series":"1757 ppb*d","wavenumber":1604.6,"absorbance":1.4134},{"series":"1757 ppb*d","wavenumber":1597.2,"absorbance":1.3934},{"series":"1757 ppb*d","wavenumber":1590.7,"absorbance":1.3866},{"series":"1757 ppb*d","wavenumber":1581.5,"absorbance":1.37},{"series":"1757 ppb*d","wavenumber":1574.1,"absorbance":1.34},{"series":"1757 ppb*d","wavenumber":1571.3,"absorbance":1.3066},{"series":"1757 ppb*d","wavenumber":1568.1,"absorbance":1.2766},{"series":"1757 ppb*d","wavenumber":1565.7,"absorbance":1.2634},{"series":"1757 ppb*d","wavenumber":1563.2,"absorbance":1.2534},{"series":"1757 ppb*d","wavenumber":1560.8,"absorbance":1.2366},{"series":"1757 ppb*d","wavenumber":1559.6,"absorbance":1.24},{"series":"1757 ppb*d","wavenumber":1558.8,"absorbance":1.2166},{"series":"1757 ppb*d","wavenumber":1558.0,"absorbance":1.1366},{"series":"1757 ppb*d","wavenumber":1555.2,"absorbance":1.11},{"series":"1757 ppb*d","wavenumber":1552.0,"absorbance":1.0766},{"series":"1757 ppb*d","wavenumber":1548.8,"absorbance":1.0234},{"series":"1757 ppb*d","wavenumber":1545.5,"absorbance":0.9866},{"series":"1757 ppb*d","wavenumber":1543.1,"absorbance":0.95},{"series":"1757 ppb*d","wavenumber":1541.5,"absorbance":0.9034},{"series":"1757 ppb*d","wavenumber":1539.9,"absorbance":0.8234},{"series":"1757 ppb*d","wavenumber":1538.3,"absorbance":0.7234},{"series":"1757 ppb*d","wavenumber":1536.7,"absorbance":0.71},{"series":"1757 ppb*d","wavenumber":1535.1,"absorbance":0.69},{"series":"1757 ppb*d","wavenumber":1534.0,"absorbance":0.63},{"series":"1757 ppb*d","wavenumber":1532.9,"absorbance":0.57},{"series":"1757 ppb*d","wavenumber":1531.7,"absorbance":0.4766},{"series":"1757 ppb*d","wavenumber":1530.5,"absorbance":0.4166},{"series":"1757 ppb*d","wavenumber":1529.3,"absorbance":0.37},{"series":"1757 ppb*d","wavenumber":1527.7,"absorbance":0.3166},{"series":"1757 ppb*d","wavenumber":1526.1,"absorbance":0.2634},{"series":"1757 ppb*d","wavenumber":1524.5,"absorbance":0.21},{"series":"1757 ppb*d","wavenumber":1522.8,"absorbance":0.1434},{"series":"1757 ppb*d","wavenumber":1521.6,"absorbance":0.0834},{"series":"1757 ppb*d","wavenumber":1520.6,"absorbance":0.0}
    ]
  },
  "layer": [
    {
      "data": {"name": "spectra"},
      "mark": {"type": "line", "strokeWidth": 1.4, "clip": true},
      "encoding": {
        "x": {
          "field": "wavenumber", "type": "quantitative",
          "scale": {"domain": [1493.9, 1938.2], "reverse": true, "nice": false, "zero": false},
          "axis": {
            "values": [1938.2, 1920, 1900, 1880, 1860, 1840, 1820, 1800, 1780, 1760, 1740, 1720, 1700, 1680, 1660, 1640, 1620, 1600, 1580, 1560, 1540, 1520, 1500],
            "labelExpr": "datum.value > 1938 ? '1938.2' : format(datum.value, 'd')",
            "labelFont": "Liberation Serif", "labelFontSize": 17, "labelColor": "#000000",
            "labelFlush": false, "labelOverlap": false, "labelPadding": 10, "tickSize": 8,
            "title": "cm-1", "titleFont": "Liberation Serif", "titleFontSize": 16, "titleFontWeight": "normal",
            "titleColor": "#000000", "titleX": 938, "titleY": 56, "titleBaseline": "alphabetic", "titleAlign": "center"
          }
        },
        "y": {
          "field": "absorbance", "type": "quantitative",
          "scale": {"domain": [0, 2.256], "nice": false, "zero": false},
          "axis": {
            "values": [0, 0.0386, 0.1287, 0.2187, 0.3088, 0.3988, 0.4889, 0.579, 0.669, 0.7591, 0.8491, 0.9392, 1.0293, 1.1193, 1.2094, 1.2994, 1.3895, 1.4796, 1.5696, 1.6597, 1.7497, 1.8398, 1.9299, 2.0199, 2.11, 2.2, 2.256],
            "labels": false, "tickSize": 9, "title": null
          }
        },
        "color": {
          "field": "series", "type": "nominal",
          "scale": {
            "domain": ["0 ppb*d", "145 ppb*d", "402 ppb*d", "699 ppb*d", "747 ppb*d", "1284 ppb*d", "1757 ppb*d"],
            "range": ["#2a2aff", "#ff2020", "#1c1c1c", "#1c1c1c", "#9a2c2c", "#1c1c1c", "#1c1c1c"]
          },
          "legend": null
        }
      }
    },
    {
      "data": {"values": [{}]},
      "mark": {"type": "text", "align": "left", "baseline": "alphabetic", "font": "DejaVu Sans", "fontSize": 25, "lineHeight": 33.77, "color": "#000000",
        "text": ["0 ppb*d", "145 ppb*d", "402 ppb*d", "699 ppb*d", "747 ppb*d", "1284 ppb*d", "1757 ppb*d"]},
      "encoding": {
        "x": {"datum": 1776.35, "type": "quantitative", "scale": {"domain": [1493.9, 1938.2], "reverse": true, "nice": false, "zero": false}},
        "y": {"datum": 1.6714, "type": "quantitative", "scale": {"domain": [0, 2.256], "nice": false, "zero": false}}
      }
    },
    {
      "data": {"values": [{}]},
      "mark": {"type": "text", "align": "center", "baseline": "alphabetic", "font": "Liberation Serif", "fontSize": 22, "color": "#ff1a1a", "text": "1720"},
      "encoding": {
        "x": {"datum": 1732.2, "type": "quantitative", "scale": {"domain": [1493.9, 1938.2], "reverse": true, "nice": false, "zero": false}},
        "y": {"datum": 0.92, "type": "quantitative", "scale": {"domain": [0, 2.256], "nice": false, "zero": false}}
      }
    },
    {
      "data": {"values": [{}]},
      "mark": {"type": "text", "align": "center", "baseline": "alphabetic", "font": "Liberation Serif", "fontSize": 22, "color": "#ff1a1a", "text": "1716"},
      "encoding": {
        "x": {"datum": 1709.3, "type": "quantitative", "scale": {"domain": [1493.9, 1938.2], "reverse": true, "nice": false, "zero": false}},
        "y": {"datum": 0.8846, "type": "quantitative", "scale": {"domain": [0, 2.256], "nice": false, "zero": false}}
      }
    },
    {
      "data": {"values": [{}]},
      "mark": {"type": "rule", "color": "#ff1a1a", "strokeWidth": 1.3},
      "encoding": {
        "x": {"datum": 1720.08, "type": "quantitative", "scale": {"domain": [1493.9, 1938.2], "reverse": true, "nice": false, "zero": false}},
        "x2": {"datum": 1721.53},
        "y": {"datum": 1.01, "type": "quantitative", "scale": {"domain": [0, 2.256], "nice": false, "zero": false}},
        "y2": {"datum": 0.9766}
      }
    },
    {
      "data": {"values": [{}]},
      "mark": {"type": "rule", "color": "#ff1a1a", "strokeWidth": 1.3},
      "encoding": {
        "x": {"datum": 1715.4, "type": "quantitative", "scale": {"domain": [1493.9, 1938.2], "reverse": true, "nice": false, "zero": false}},
        "x2": {"datum": 1714.05},
        "y": {"datum": 0.9754, "type": "quantitative", "scale": {"domain": [0, 2.256], "nice": false, "zero": false}},
        "y2": {"datum": 0.9414}
      }
    },
    {
      "data": {"values": [{}]},
      "mark": {"type": "text", "align": "right", "baseline": "alphabetic", "font": "Liberation Sans", "fontWeight": "bold", "fontSize": 42, "color": "#000000", "text": "A"},
      "encoding": {
        "x": {"datum": 1945.2, "type": "quantitative", "scale": {"domain": [1493.9, 1938.2], "reverse": true, "nice": false, "zero": false}},
        "y": {"datum": 2.1666, "type": "quantitative", "scale": {"domain": [0, 2.256], "nice": false, "zero": false}}
      }
    },
    {
      "data": {"values": [{}]},
      "mark": {"type": "text", "align": "center", "baseline": "alphabetic", "font": "Liberation Serif", "fontStyle": "italic", "fontWeight": "bold", "fontSize": 100, "color": "#000000", "text": "y"},
      "encoding": {
        "x": {"datum": 1822.4, "type": "quantitative", "scale": {"domain": [1493.9, 1938.2], "reverse": true, "nice": false, "zero": false}},
        "y": {"datum": 2.268, "type": "quantitative", "scale": {"domain": [0, 2.256], "nice": false, "zero": false}}
      }
    },
    {
      "data": {"values": [{}]},
      "mark": {"type": "text", "align": "left", "baseline": "alphabetic", "font": "Liberation Serif", "fontStyle": "italic", "fontSize": 70, "color": "#000000", "text": ")"},
      "encoding": {
        "x": {"datum": 1731.0, "type": "quantitative", "scale": {"domain": [1493.9, 1938.2], "reverse": true, "nice": false, "zero": false}},
        "y": {"datum": 2.27, "type": "quantitative", "scale": {"domain": [0, 2.256], "nice": false, "zero": false}}
      }
    }
  ]
}
